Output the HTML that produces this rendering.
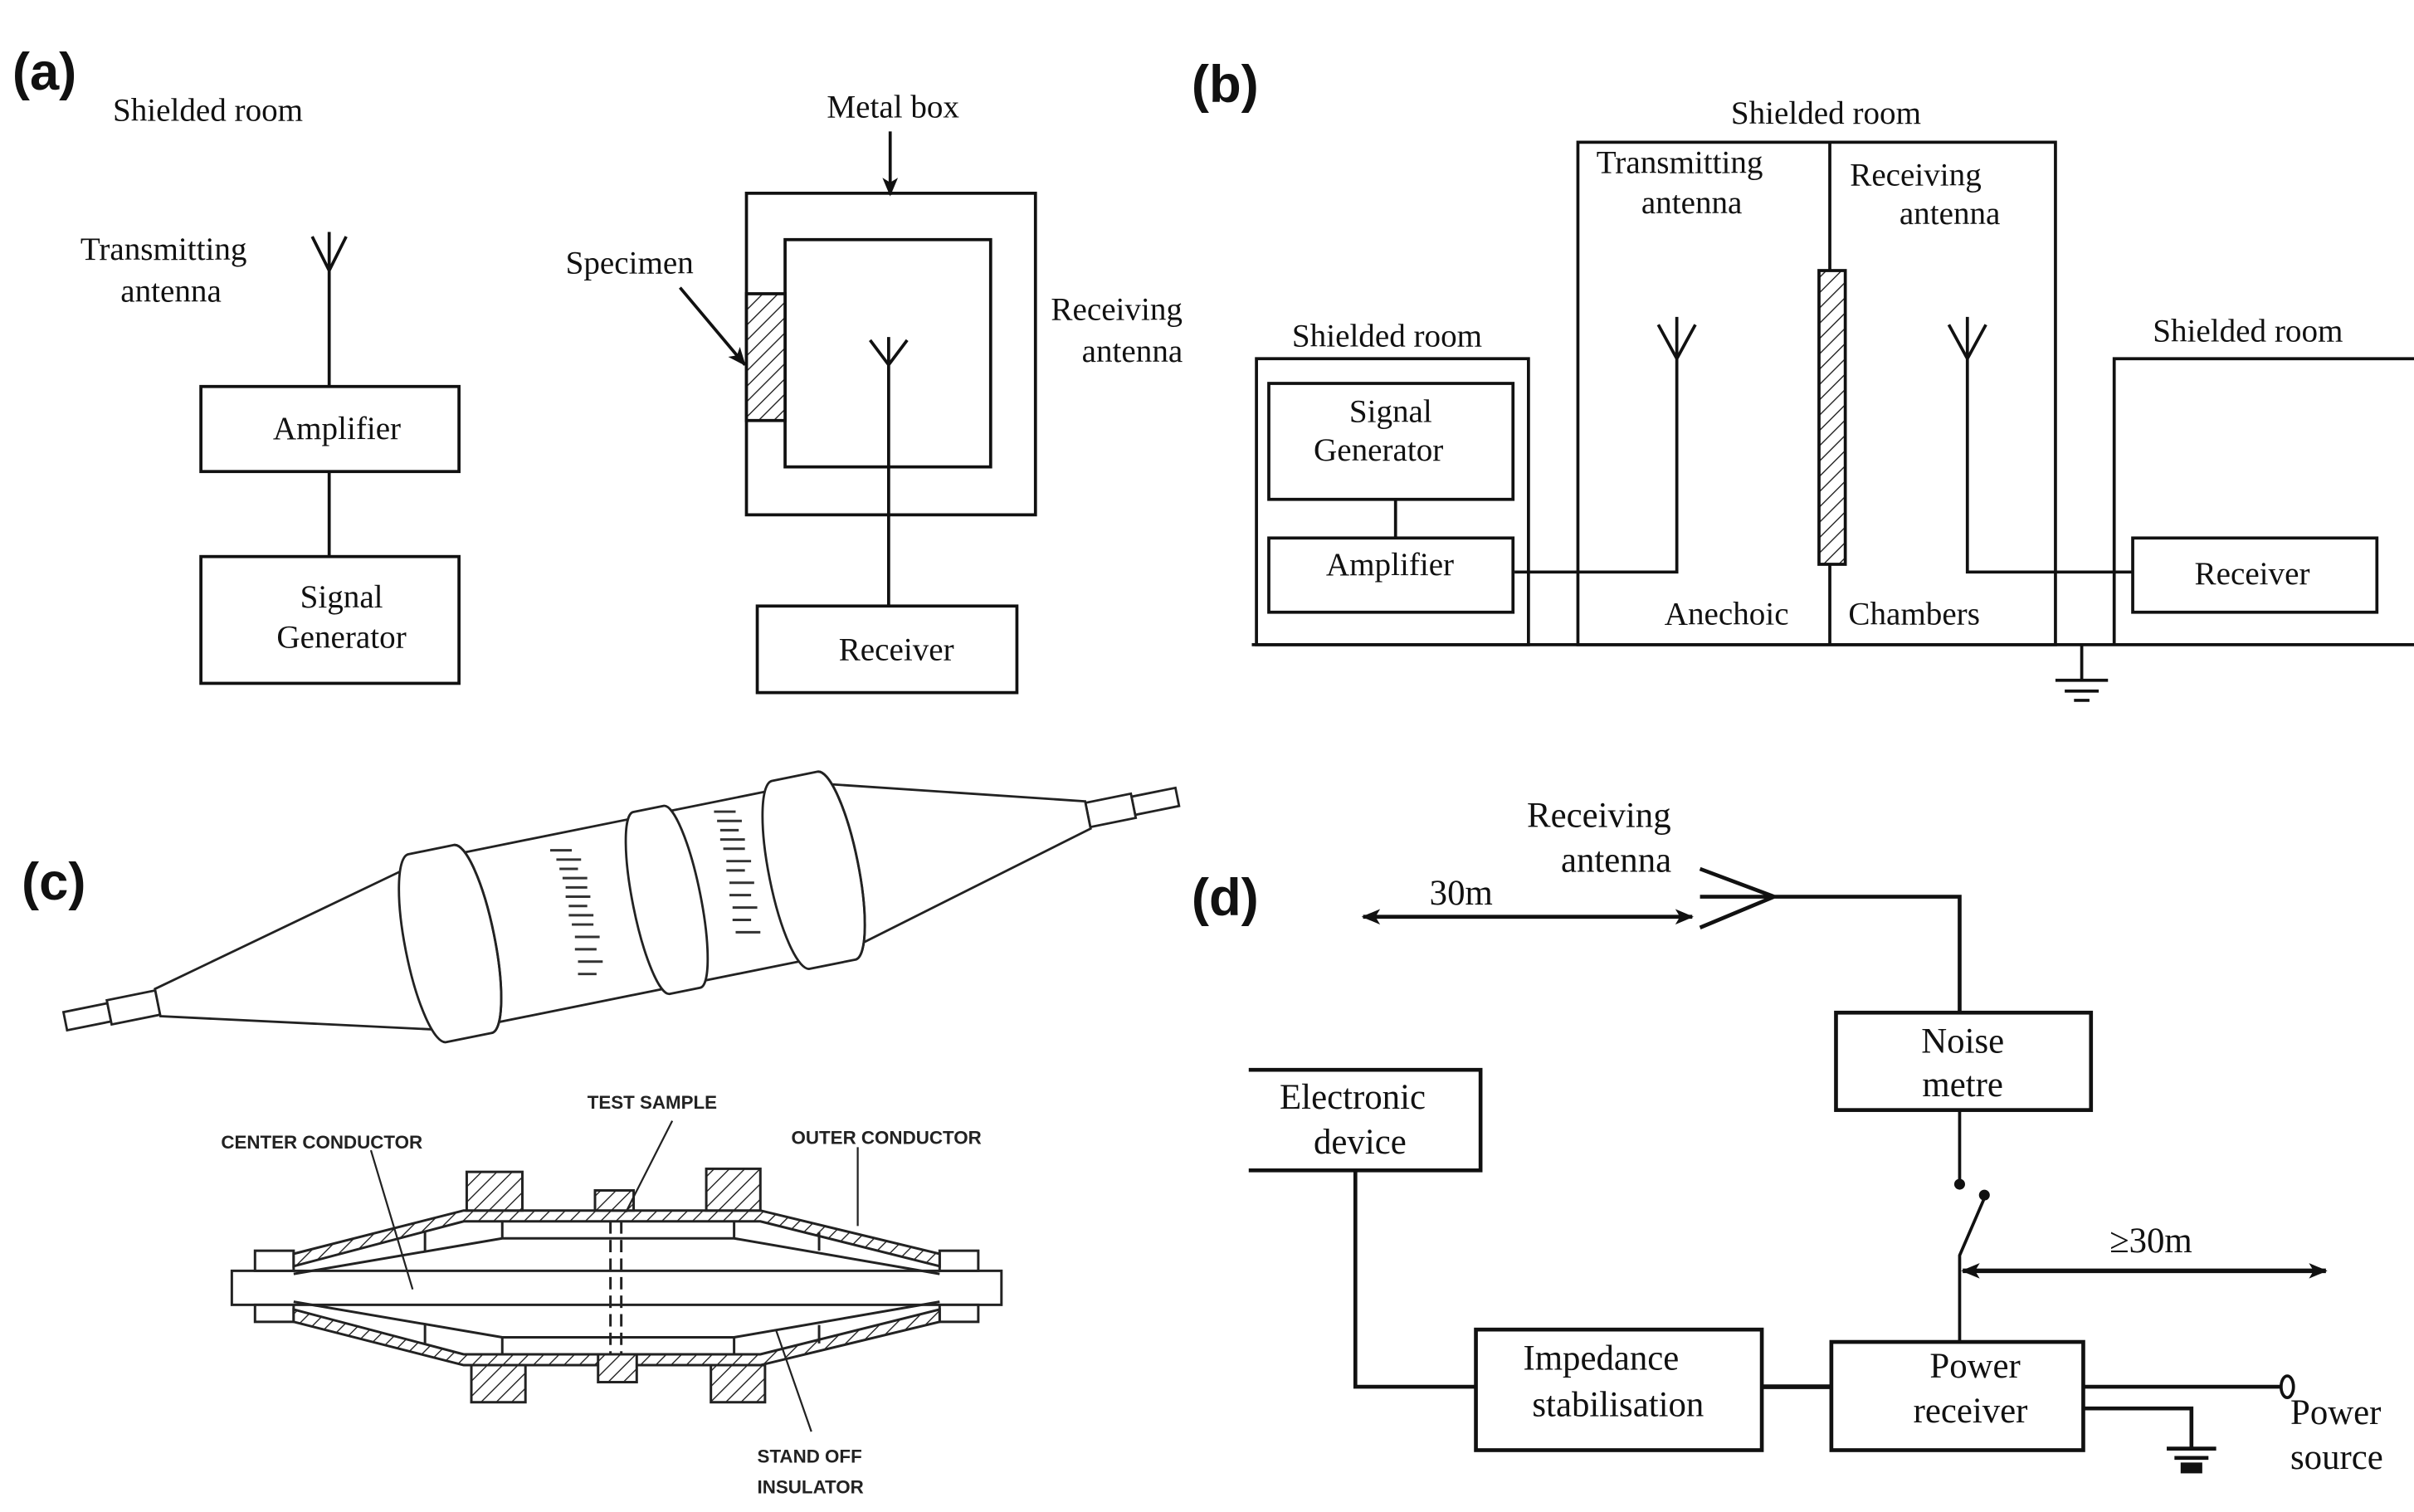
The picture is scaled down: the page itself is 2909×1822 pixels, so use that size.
<!DOCTYPE html>
<html><head><meta charset="utf-8"><style>
html,body{margin:0;padding:0;background:#fff;}
svg{display:block}
.t{font-family:"Liberation Serif",serif;font-size:21px;fill:#111}
.p{font-family:"Liberation Sans","Noto Sans CJK SC",sans-serif;font-size:34px;font-weight:bold;fill:#111}
.s{font-family:"Liberation Sans",sans-serif;font-size:12px;font-weight:bold;fill:#222}
</style></head><body>
<svg width="2909" height="1822" viewBox="0 0 1562 978" preserveAspectRatio="none" xmlns="http://www.w3.org/2000/svg">
<defs>
<pattern id="h" width="7" height="7" patternUnits="userSpaceOnUse" patternTransform="rotate(45)">
<rect width="7" height="7" fill="#fff"/><line x1="0" y1="0" x2="0" y2="7" stroke="#222" stroke-width="1.5"/></pattern>
<marker id="a" markerWidth="12" markerHeight="10" refX="11" refY="5" orient="auto-start-reverse" markerUnits="userSpaceOnUse"><path d="M0,0 L12,5 L0,10 L3,5Z" fill="#111"/></marker>
</defs>
<rect width="1562" height="978" fill="#fff"/>
<g fill="none" stroke="#111" stroke-width="2">
<!-- (a) -->
<path d="M202,153 L213,175 L224,153 M213,150 L213,250"/>
<rect x="130" y="250" width="167" height="55"/>
<path d="M213,305 L213,360"/>
<rect x="130" y="360" width="167" height="82"/>
<rect x="483" y="125" width="187" height="208"/>
<rect x="508" y="155" width="133" height="147"/>
<rect x="483" y="190" width="25" height="82" fill="url(#h)"/>
<path d="M563,220 L575,236 L587,220 M575,218 L575,392"/>
<rect x="490" y="392" width="168" height="56"/>
<path d="M576,85 L576,126" marker-end="url(#a)"/>
<path d="M440,186 L482,236" marker-end="url(#a)"/>
<!-- (b) -->
<rect x="1021" y="92" width="309" height="325"/>
<path d="M1184,92 L1184,175 M1184,365 L1184,417"/>
<rect x="1177" y="175" width="17" height="190" fill="url(#h)"/>
<path d="M1073,210 L1085,232 L1097,210 M1085,205 L1085,370 L980,370"/>
<path d="M1261,210 L1273,232 L1285,210 M1273,205 L1273,370 L1380,370"/>
<rect x="813" y="232" width="176" height="185"/>
<rect x="821" y="248" width="158" height="75"/>
<path d="M903,323 L903,348"/>
<rect x="821" y="348" width="158" height="48"/>
<path d="M1368,417 L1368,232 L1562,232"/>
<rect x="1380" y="348" width="158" height="48"/>
<path d="M810,417 L1562,417 M1347,417 L1347,440 M1330,440 L1364,440 M1336,447 L1358,447 M1342,453 L1352,453"/>
<!-- (d) -->
<path d="M882,593 L1095,593" marker-start="url(#a)" marker-end="url(#a)" stroke-width="2.5"/>
<path d="M1100,562 L1148,580 L1100,600 M1100,580 L1268,580 L1268,655" stroke-width="2.5"/>
<rect x="1188" y="655" width="165" height="63" stroke-width="2.5"/>
<path d="M1268,718 L1268,765 M1284,775 L1268,812 L1268,868"/>
<path d="M1270,822 L1505,822" marker-start="url(#a)" marker-end="url(#a)" stroke-width="3"/>
<path d="M808,692 L958,692 L958,757 L808,757" stroke-width="2.5"/>
<path d="M877,757 L877,897 L955,897" stroke-width="2.5"/>
<rect x="955" y="860" width="185" height="78" stroke-width="2.5"/>
<path d="M1140,897 L1185,897" stroke-width="3"/>
<rect x="1185" y="868" width="163" height="70" stroke-width="2.5"/>
<path d="M1348,897 L1476,897 M1348,911 L1418,911 L1418,936 M1402,937 L1434,937 M1407,943 L1429,943" stroke-width="2.5"/>
<rect x="1412" y="947" width="12" height="5" fill="#111"/>
<ellipse cx="1480" cy="897" rx="4" ry="7"/>
</g>
<circle cx="1268" cy="766" r="3.5" fill="#111"/><circle cx="1284" cy="773" r="3.5" fill="#111"/>
<!-- (c) top cylinder -->
<g transform="translate(402,588) rotate(-11.4)" fill="#fff" stroke="#222" stroke-width="1.5">
<path d="M-367,-6 L-338,-6 L-338,6 L-367,6Z"/>
<path d="M-338,-8 L-306,-8 L-306,8 L-338,8Z"/>
<path d="M-306,-9 L-112,-58 L-112,58 L-306,9Z"/>
<path d="M338,-6 L367,-6 L367,6 L338,6Z"/>
<path d="M308,-8 L338,-8 L338,8 L308,8Z"/>
<path d="M308,-9 L128,-58 L128,58 L308,9Z"/>
<path d="M-112,-56 L128,-56 L128,56 L-112,56Z"/>
<path d="M-128,-62 L-98,-62 A14 62 0 0 1 -98,62 L-128,62 A14 62 0 0 1 -128,-62Z"/>
<path d="M-98,-62 A14 62 0 0 1 -98,62 A14 62 0 0 0 -98,-62Z"/>
<path d="M20,-60 L40,-60 A12 60 0 0 1 40,60 L20,60 A12 60 0 0 1 20,-60Z"/>
<path d="M112,-62 L142,-62 A14 62 0 0 1 142,62 L112,62 A14 62 0 0 1 112,-62Z"/>
<path d="M142,-62 A14 62 0 0 1 142,62 A14 62 0 0 0 142,-62Z"/>
</g>
<g stroke="#333" stroke-width="1.6">
<path d="M356,550h14M360,556h16M362,562h12M364,568h16M366,574h14M366,580h16M368,586h12M368,592h16M370,598h14M372,606h16M372,614h14M374,622h16M374,630h12"/>
<path d="M462,525h14M464,531h16M466,537h12M466,543h16M468,549h14M470,557h16M470,563h12M472,571h16M472,579h14M474,587h16M474,595h12M476,603h16"/>
</g>
<!-- (c) cross section -->
<g stroke="#222" stroke-width="1.6">
<rect x="150" y="822" width="498" height="22" fill="#fff"/>
<rect x="165" y="809" width="25" height="13" fill="#fff"/><rect x="165" y="844" width="25" height="11" fill="#fff"/>
<rect x="608" y="809" width="25" height="13" fill="#fff"/><rect x="608" y="844" width="25" height="11" fill="#fff"/>
<path d="M190,811 L300,783 L492,783 L608,811 L608,819 L492,790 L300,790 L190,819Z" fill="url(#h)"/>
<path d="M190,855 L300,883 L492,883 L608,855 L608,847 L492,876 L300,876 L190,847Z" fill="url(#h)"/>
<path d="M190,824 L325,801 L475,801 L608,824 M190,842 L325,865 L475,865 L608,842" fill="none"/>
<path d="M275,797v12M325,790v11M475,790v11M530,797v12M275,857v12M325,865v11M475,865v11M530,857v12" fill="none"/>
<rect x="302" y="758" width="36" height="25" fill="url(#h)"/><rect x="457" y="756" width="35" height="27" fill="url(#h)"/>
<rect x="305" y="883" width="35" height="24" fill="url(#h)"/><rect x="460" y="883" width="35" height="24" fill="url(#h)"/>
<rect x="385" y="770" width="25" height="13" fill="url(#h)"/><rect x="387" y="876" width="25" height="18" fill="url(#h)"/>
<path d="M395,790 L395,876 M402,790 L402,876" stroke-dasharray="8,4" fill="none"/>
<path d="M240,744 L267,834 M435,725 L405,784 M555,742 L555,793 M525,926 L502,860" fill="none" stroke-width="1.2"/>
</g>
<!-- text -->
<text class="p" x="8" y="58">(a)</text>
<text class="p" x="771" y="66">(b)</text>
<text class="p" x="14" y="582">(c)</text>
<text class="p" x="771" y="592">(d)</text>
<g class="t">
<text x="73" y="78">Shielded room</text>
<text x="52" y="168">Transmitting</text><text x="78" y="195">antenna</text>
<text x="218" y="284" text-anchor="middle">Amplifier</text>
<text x="221" y="393" text-anchor="middle">Signal</text><text x="221" y="419" text-anchor="middle">Generator</text>
<text x="535" y="76">Metal box</text>
<text x="366" y="177">Specimen</text>
<text x="680" y="207">Receiving</text><text x="700" y="234">antenna</text>
<text x="580" y="427" text-anchor="middle">Receiver</text>
<text x="1120" y="80">Shielded room</text>
<text x="1033" y="112">Transmitting</text><text x="1062" y="138">antenna</text>
<text x="1197" y="120">Receiving</text><text x="1229" y="145">antenna</text>
<text x="836" y="224">Shielded room</text>
<text x="1393" y="221">Shielded room</text>
<text x="873" y="273">Signal</text><text x="850" y="298">Generator</text>
<text x="858" y="372">Amplifier</text>
<text x="1420" y="378">Receiver</text>
<text x="1077" y="404">Anechoic</text><text x="1196" y="404">Chambers</text>
<text x="988" y="535" font-size="23">Receiving</text><text x="1010" y="564" font-size="23">antenna</text>
<text x="925" y="585" font-size="23">30m</text>
<text x="1270" y="681" text-anchor="middle" font-size="23">Noise</text><text x="1270" y="709" text-anchor="middle" font-size="23">metre</text>
<text x="1365" y="810" font-size="23">≥30m</text>
<text x="828" y="717" font-size="23">Electronic</text><text x="850" y="746" font-size="23">device</text>
<text x="1036" y="886" text-anchor="middle" font-size="23">Impedance</text><text x="1047" y="916" text-anchor="middle" font-size="23">stabilisation</text>
<text x="1278" y="891" text-anchor="middle" font-size="23">Power</text><text x="1275" y="920" text-anchor="middle" font-size="23">receiver</text>
<text x="1482" y="921" font-size="23">Power</text><text x="1482" y="950" font-size="23">source</text>
</g>
<g class="s">
<text x="143" y="743">CENTER CONDUCTOR</text>
<text x="380" y="717">TEST SAMPLE</text>
<text x="512" y="740">OUTER CONDUCTOR</text>
<text x="490" y="946">STAND OFF</text>
<text x="490" y="966">INSULATOR</text>
</g>
</svg>
</body></html>
